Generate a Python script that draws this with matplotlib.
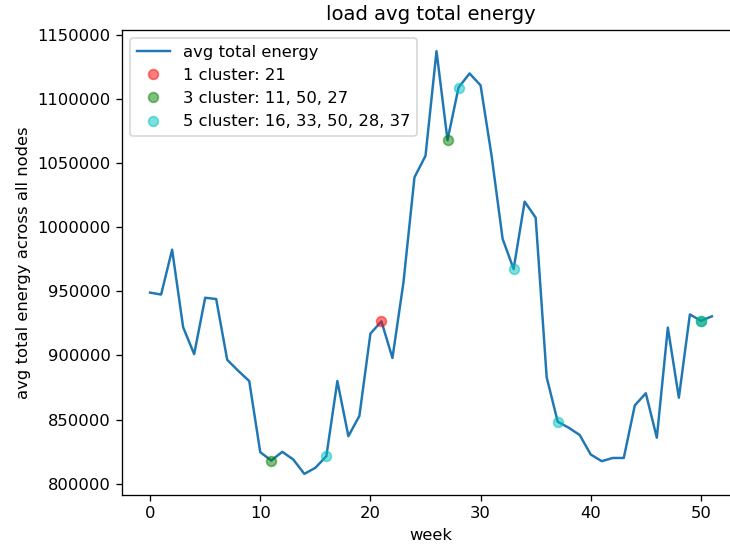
import matplotlib
matplotlib.use("Agg")
import matplotlib.pyplot as plt
import numpy as np

weeks = np.arange(52)
energy = [
    949000, 947500, 982500, 922000, 901000, 945000, 944000, 896600, 888000, 880000,
    824500, 818000, 824800, 818800, 807600, 812300, 821400, 880000, 837000, 852800,
    917000, 926600, 898000, 957000, 1039000, 1055700, 1137400, 1068000, 1109000, 1120000,
    1110700, 1055800, 991000, 967400, 1020000, 1007500, 883000, 848300, 843600, 837900,
    822700, 817500, 820000, 820000, 861000, 870500, 835800, 921700, 867000, 932000,
    927000, 930500,
]

clusters = {
    "1 cluster: 21": ([21], "r"),
    "3 cluster: 11, 50, 27": ([11, 50, 27], "g"),
    "5 cluster: 16, 33, 50, 28, 37": ([16, 33, 50, 28, 37], "c"),
}

fig = plt.figure(figsize=(730 / 118, 550 / 118), dpi=118)
# reference is cropped on the right, so the axes run past the figure edge
ax = fig.add_axes([122 / 730, 55 / 550, 618 / 730, 465 / 550])

ax.plot(weeks, energy, label="avg total energy")
for label, (idx, color) in clusters.items():
    ax.plot(idx, [energy[i] for i in idx], "o", color=color, alpha=0.5, label=label)

ax.set_title("load avg total energy")
ax.set_xlabel("week")
ax.set_ylabel("avg total energy across all nodes")
ax.ticklabel_format(axis="y", style="plain", useOffset=False)
ax.legend(loc="upper left")

fig.savefig("out.png", dpi=118)
